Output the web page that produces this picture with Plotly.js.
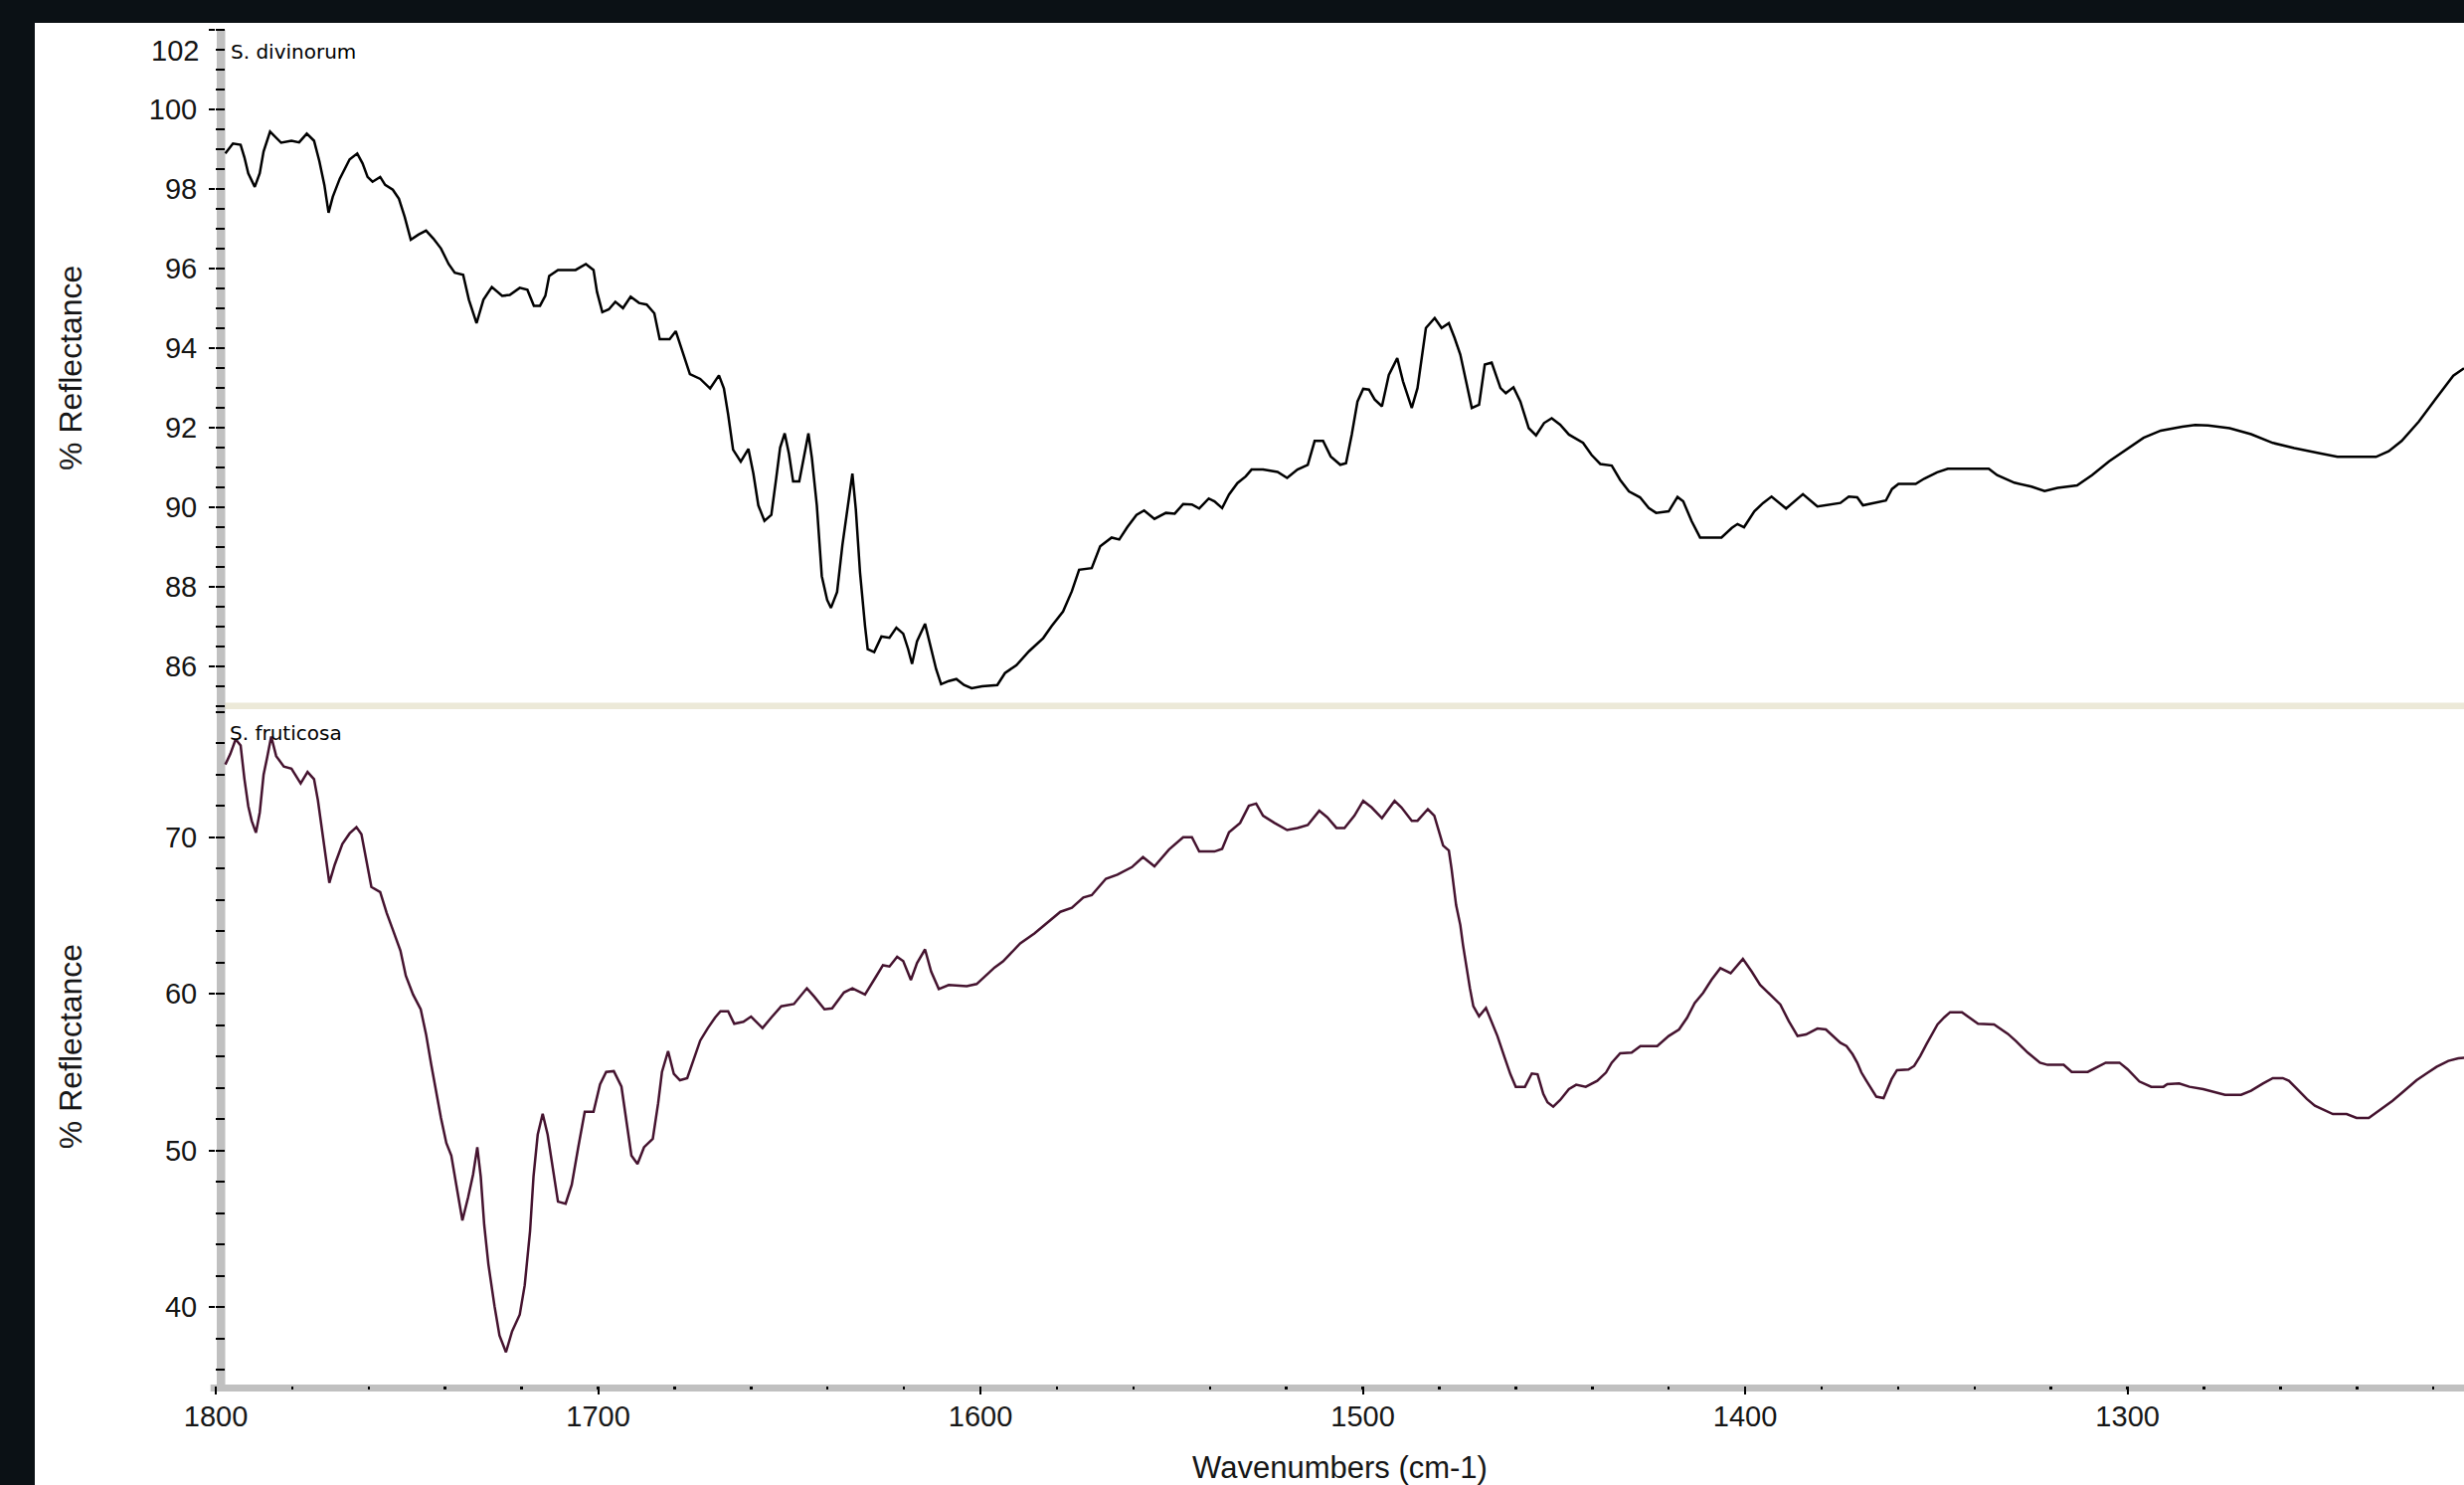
<!DOCTYPE html>
<html><head><meta charset="utf-8">
<script src="https://cdn.plot.ly/plotly-3.0.1.min.js"></script>
<style>
html,body{margin:0;padding:0;background:#0b1115;width:2478px;height:1493px;overflow:hidden;}
#chart{position:absolute;left:35px;top:23px;width:2443px;height:1470px;background:#fff;}
</style></head><body><div id="chart"></div>
<script>
// ---- data ----
const sampleNames = ['S. divinorum', 'S. fruticosa'];
const xTitle = 'Wavenumbers (cm-1)';
const yTitle = '% Reflectance';

const xTickVals = [1800, 1700, 1600, 1500, 1400, 1300];
const xTickText = ['1800', '1700', '1600', '1500', '1400', '1300'];
const topTickVals = [86, 88, 90, 92, 94, 96, 98, 100, 102];
const topTickText = ['86', '88', '90', '92', '94', '96', '98', '100', '102'];
const bottomTickVals = [40, 50, 60, 70];
const bottomTickText = ['40', '50', '60', '70'];

const divWavenumber = [
1797.5,1795.5,1793.5,1792.5,1791.5,1789.8,1788.5,1787.5,1785.8,1782.9,1780.2,1778.2,1776.2,1774.3,1772.9,1771.6,1770.5,1769.4,1767.6,1765.0,
1763.0,1761.6,1760.3,1759.0,1757.0,1755.7,1753.7,1752.1,1750.6,1749.0,1747.0,1745.0,1743.1,1741.1,1739.1,1737.5,1735.3,1733.8,1731.8,1730.0,
1727.8,1725.1,1723.1,1720.5,1718.5,1716.8,1715.2,1713.8,1712.8,1710.5,1705.9,1703.2,1701.2,1700.3,1698.9,1697.2,1695.5,1693.5,1691.5,1689.3,
1687.3,1685.3,1683.9,1681.3,1679.7,1678.0,1676.0,1673.3,1670.7,1668.4,1667.1,1666.0,1664.7,1662.7,1660.7,1659.4,1658.1,1656.5,1654.7,1653.4,
1652.4,1651.2,1650.1,1649.0,1647.4,1646.1,1645.0,1644.1,1642.8,1641.5,1640.1,1639.1,1637.5,1636.1,1634.5,1633.5,1632.6,1631.5,1630.2,1629.5,
1627.8,1625.9,1623.8,1622.0,1620.2,1618.9,1617.9,1616.6,1614.5,1613.2,1611.6,1610.3,1608.3,1606.3,1604.3,1602.3,1599.6,1595.6,1593.6,1590.6,
1587.3,1583.6,1581.4,1578.4,1576.1,1574.2,1570.9,1568.7,1565.7,1563.7,1561.6,1559.2,1557.2,1554.5,1551.5,1549.2,1547.0,1544.7,1542.8,1540.3,
1538.8,1536.8,1535.0,1532.8,1530.6,1529.1,1526.1,1522.3,1519.8,1517.1,1514.4,1512.6,1510.4,1508.4,1505.9,1504.4,1502.9,1501.4,1499.9,1498.4,
1496.9,1495.0,1493.2,1491.0,1489.5,1487.2,1485.7,1483.5,1481.2,1479.4,1477.5,1476.0,1474.5,1473.0,1471.5,1469.6,1468.1,1466.3,1464.0,1462.6,
1460.6,1458.8,1456.6,1454.7,1452.6,1450.6,1448.4,1446.1,1442.4,1440.2,1437.9,1434.9,1432.7,1430.4,1427.5,1425.2,1423.3,1420.0,1417.7,1416.2,
1414.0,1411.8,1406.2,1403.5,1402.0,1400.3,1397.6,1395.3,1393.1,1389.3,1384.9,1381.1,1378.1,1375.1,1372.9,1370.7,1369.2,1366.2,1363.2,1361.6,
1359.9,1355.4,1353.2,1349.8,1347.0,1336.3,1334.1,1329.6,1325.1,1321.7,1318.3,1313.2,1309.3,1304.8,1300.3,1295.8,1291.3,1285.7,1282.3,1278.9,
1273.3,1267.7,1262.0,1256.4,1249.7,1245.1,1235.0,1231.7,1228.3,1223.8,1219.3,1214.8,1212.0];
const divReflectance = [
98.89,99.14,99.11,98.79,98.39,98.05,98.39,98.94,99.44,99.16,99.21,99.17,99.39,99.21,98.69,98.10,97.40,97.80,98.25,98.74,
98.89,98.64,98.30,98.18,98.30,98.10,97.98,97.75,97.30,96.72,96.85,96.95,96.75,96.50,96.11,95.89,95.84,95.21,94.62,95.21,
95.53,95.31,95.33,95.51,95.46,95.06,95.06,95.31,95.81,95.96,95.96,96.11,95.96,95.41,94.90,94.97,95.16,95.00,95.29,95.13,
95.09,94.87,94.22,94.22,94.42,93.92,93.34,93.22,92.98,93.31,92.98,92.33,91.44,91.14,91.46,90.84,90.04,89.65,89.80,90.74,
91.49,91.85,91.34,90.64,90.64,91.29,91.85,91.24,90.04,88.26,87.66,87.46,87.86,89.05,90.14,90.84,89.94,88.35,87.01,86.42,
86.35,86.74,86.71,86.96,86.81,86.42,86.05,86.62,87.06,86.56,85.92,85.54,85.62,85.67,85.52,85.44,85.49,85.52,85.82,86.02,
86.37,86.70,87.00,87.37,87.88,88.42,88.46,89.01,89.23,89.18,89.49,89.80,89.91,89.70,89.85,89.83,90.07,90.06,89.96,90.21,
90.14,89.97,90.31,90.60,90.77,90.94,90.94,90.88,90.73,90.94,91.06,91.66,91.66,91.27,91.06,91.10,91.82,92.65,92.97,92.95,
92.70,92.53,93.32,93.74,93.16,92.49,92.99,94.50,94.75,94.50,94.62,94.25,93.83,93.16,92.49,92.57,93.58,93.63,92.99,92.86,
93.01,92.65,91.98,91.80,92.11,92.23,92.07,91.82,91.61,91.31,91.08,91.04,90.68,90.39,90.24,89.97,89.85,89.89,90.25,90.14,
89.64,89.23,89.23,89.47,89.57,89.49,89.89,90.10,90.26,89.96,90.32,90.01,90.06,90.10,90.26,90.24,90.04,90.10,90.16,90.45,
90.58,90.58,90.71,90.87,90.96,90.96,90.80,90.61,90.51,90.40,90.48,90.54,90.80,91.15,91.44,91.74,91.92,92.02,92.06,92.05,
91.98,91.83,91.61,91.48,91.35,91.26,91.26,91.40,91.66,92.15,92.73,93.30,93.49];

const fruWavenumber = [
1797.5,1796.2,1794.8,1793.5,1792.5,1791.5,1790.6,1789.5,1788.5,1787.5,1786.6,1785.5,1784.2,1782.2,1780.2,1779.2,1777.8,1776.0,1774.3,1773.3,
1772.3,1771.3,1770.3,1768.9,1766.9,1765.0,1763.2,1761.9,1760.6,1759.3,1757.0,1755.3,1753.7,1751.7,1750.3,1748.4,1746.4,1745.0,1743.7,1742.4,
1741.1,1739.7,1738.4,1737.1,1735.5,1734.0,1732.7,1731.6,1730.7,1729.8,1728.7,1727.1,1725.8,1724.1,1722.5,1720.5,1719.2,1717.8,1716.9,1715.8,
1714.5,1713.2,1711.8,1710.5,1708.5,1706.9,1705.2,1703.5,1701.2,1699.5,1697.9,1695.9,1693.9,1692.6,1691.3,1689.7,1688.0,1685.7,1684.3,1683.3,
1681.7,1680.2,1678.6,1676.7,1675.1,1673.3,1671.3,1669.4,1668.0,1666.0,1664.4,1662.0,1660.0,1657.0,1654.7,1652.1,1648.8,1645.4,1643.5,1640.8,
1638.8,1635.7,1633.5,1630.2,1627.5,1625.5,1623.8,1621.8,1620.2,1618.2,1616.6,1614.5,1612.9,1610.9,1608.3,1603.6,1601.0,1596.3,1594.1,1589.6,
1585.9,1581.4,1579.1,1576.1,1573.1,1570.9,1567.2,1564.2,1560.4,1557.5,1554.5,1550.7,1547.0,1544.7,1542.8,1538.8,1536.8,1535.0,1532.1,1529.8,
1527.9,1526.1,1523.1,1519.8,1517.1,1514.4,1511.4,1509.3,1506.9,1504.8,1502.2,1499.9,1497.7,1495.0,1491.7,1489.9,1487.2,1485.7,1483.0,1481.3,
1480.1,1479.0,1477.5,1476.8,1475.6,1474.5,1473.8,1473.0,1472.0,1471.1,1469.6,1467.8,1466.3,1464.8,1462.9,1461.4,1460.0,1457.6,1455.8,1454.3,
1452.8,1451.7,1450.2,1448.4,1446.1,1444.2,1441.7,1438.7,1436.4,1434.9,1432.7,1429.7,1427.4,1423.0,1420.0,1417.3,1415.2,1413.2,1411.0,1408.8,
1406.5,1403.8,1400.6,1398.3,1396.1,1393.8,1390.8,1388.6,1386.3,1384.1,1381.1,1378.9,1376.6,1375.1,1373.5,1371.9,1370.7,1369.6,1368.3,1366.9,
1365.7,1363.8,1362.8,1361.7,1360.3,1357.3,1355.8,1354.2,1352.6,1351.1,1349.7,1347.9,1346.4,1343.3,1341.2,1339.1,1334.9,1332.8,1331.3,1329.2,
1326.1,1322.9,1320.9,1316.7,1314.6,1310.4,1308.3,1305.7,1302.1,1300.0,1296.9,1293.8,1290.6,1289.6,1286.5,1283.8,1280.2,1277.1,1274.5,1270.3,
1267.7,1264.6,1262.0,1259.4,1257.8,1255.2,1253.1,1251.0,1248.4,1246.3,1242.7,1240.1,1236.9,1234.9,1232.8,1230.7,1228.1,1224.4,1221.8,1219.2,
1216.1,1213.5,1211.6];
const fruReflectance = [
74.64,75.31,76.25,75.85,73.71,71.98,71.04,70.29,71.57,73.98,75.05,76.43,75.18,74.51,74.38,73.98,73.44,74.17,73.71,72.38,
70.51,68.90,67.09,68.24,69.57,70.24,70.64,70.19,68.37,66.82,66.50,65.17,64.10,62.76,61.16,59.96,59.02,57.42,55.55,53.82,
52.08,50.48,49.68,47.81,45.54,47.01,48.48,50.21,48.34,45.27,42.74,40.07,38.20,37.13,38.46,39.53,41.40,44.87,48.34,51.01,
52.35,51.01,48.88,46.74,46.61,47.81,50.21,52.48,52.48,54.22,55.02,55.07,54.08,51.82,49.68,49.14,50.21,50.75,53.02,55.02,
56.35,54.89,54.49,54.62,55.69,57.02,57.82,58.49,58.89,58.89,58.09,58.22,58.55,57.82,58.49,59.21,59.35,60.36,59.83,59.02,
59.08,60.09,60.36,59.96,61.03,61.83,61.75,62.36,62.09,60.89,61.96,62.84,61.43,60.31,60.57,60.49,60.63,61.69,62.07,63.23,
63.86,64.81,65.24,65.49,66.15,66.30,67.35,67.61,68.09,68.73,68.14,69.21,70.00,70.00,69.09,69.09,69.26,70.31,70.91,72.01,
72.15,71.37,70.91,70.46,70.59,70.78,71.69,71.27,70.59,70.59,71.37,72.32,71.90,71.22,72.32,71.90,71.05,71.05,71.79,71.37,
70.31,69.47,69.15,67.99,65.66,64.39,63.12,61.85,60.37,59.21,58.57,59.10,58.26,57.31,55.93,54.87,54.07,54.07,54.92,54.87,
53.61,53.08,52.80,53.22,53.92,54.20,54.07,54.45,54.98,55.61,56.21,56.25,56.67,56.67,57.31,57.73,58.47,59.42,60.06,60.90,
61.64,61.32,62.23,61.43,60.58,60.06,59.32,58.26,57.31,57.41,57.79,57.73,57.20,56.88,56.67,56.14,55.61,54.98,54.45,53.92,
53.44,53.35,53.92,54.56,55.13,55.17,55.40,56.04,56.78,57.41,58.05,58.51,58.83,58.83,58.47,58.09,58.05,57.73,57.45,56.99,
56.25,55.61,55.47,55.47,55.02,55.02,55.30,55.61,55.61,55.19,54.41,54.07,54.07,54.24,54.28,54.07,53.92,53.71,53.56,53.56,
53.82,54.28,54.62,54.62,54.45,53.82,53.29,52.86,52.55,52.33,52.33,52.08,52.08,52.44,52.80,53.18,53.71,54.49,54.92,55.34,
55.72,55.89,55.93];

// ---- geometry (page pixels) ----
const DIV_LEFT = 35, DIV_TOP = 23, W = 2443, H = 1470;
const M = {l: 182, r: 0, t: 7, b: 100};
const plotLeft = DIV_LEFT + M.l;            // 217
const plotBottom = DIV_TOP + H - M.b;       // 1393
const PW = W - M.l - M.r, PH = H - M.t - M.b;
const px = rx => (rx - plotLeft) / PW;
const py = ry => (plotBottom - ry) / PH;

const topDomain = [py(709.5), 1];
const botDomain = [0, py(711)];

const tickFont = {family: 'Liberation Sans, Arial, sans-serif', size: 29, color: '#161616'};
const titleFont = {family: 'Liberation Sans, Arial, sans-serif', size: 31, color: '#161616'};
const nameFont = {family: 'DejaVu Sans, sans-serif', size: 20, color: '#000'};

const yCommon = {
  anchor: 'x', autorange: false, showgrid: false, zeroline: false, showline: false,
  ticks: 'outside', ticklen: 6, tickwidth: 2, tickcolor: '#000',
  tickmode: 'array', tickfont: tickFont, ticklabelstandoff: 6, automargin: false
};

const traces = [
  {x: divWavenumber, y: divReflectance, xaxis: 'x', yaxis: 'y', type: 'scatter', mode: 'lines',
   name: sampleNames[0], line: {color: '#000000', width: 2.5}, hoverinfo: 'x+y'},
  {x: fruWavenumber, y: fruReflectance, xaxis: 'x', yaxis: 'y2', type: 'scatter', mode: 'lines',
   name: sampleNames[1], line: {color: '#45132f', width: 2.5}, hoverinfo: 'x+y'}
];

const layout = {
  width: W, height: H, margin: M,
  paper_bgcolor: '#ffffff', plot_bgcolor: 'rgba(0,0,0,0)',
  showlegend: false,
  xaxis: {
    domain: [0, 1], range: [1800, 1212], autorange: false, anchor: 'y2',
    showgrid: false, zeroline: false, showline: false,
    ticks: 'outside', ticklen: 8, tickwidth: 2, tickcolor: '#000',
    tickmode: 'array', tickvals: xTickVals, ticktext: xTickText, tickfont: tickFont,
    ticklabelstandoff: -3, automargin: false,
    minor: {ticks: 'outside', ticklen: 3, tickwidth: 2.5, tickcolor: '#000', dtick: 20, tick0: 1800, showgrid: false},
    title: {text: xTitle, font: titleFont, standoff: 32}
  },
  yaxis: Object.assign({}, yCommon, {
    domain: topDomain, range: [85, 102],
    tickvals: topTickVals,
    ticktext: topTickText.map((t, i) => topTickVals[i] === 102 ? '' : t),
    minor: {ticks: 'inside', ticklen: 9, tickwidth: 2, tickcolor: '#000', dtick: 0.5, tick0: 85, showgrid: false},
    title: {text: yTitle, font: Object.assign({}, titleFont, {size: 32}), standoff: 57}
  }),
  yaxis2: Object.assign({}, yCommon, {
    domain: botDomain, range: [35, 78.3],
    tickvals: bottomTickVals, ticktext: bottomTickText,
    minor: {ticks: 'inside', ticklen: 9, tickwidth: 2, tickcolor: '#000', dtick: 2, tick0: 0, showgrid: false},
    title: {text: yTitle, font: Object.assign({}, titleFont, {size: 32}), standoff: 73}
  }),
  shapes: [
    // beige separator between the two panes
    {type: 'rect', xref: 'paper', yref: 'paper', x0: px(218), x1: 1, y0: py(713), y1: py(706.5),
     fillcolor: '#ece9d8', line: {width: 0}, layer: 'below'},
    // grey vertical axis band
    {type: 'rect', xref: 'paper', yref: 'paper', x0: px(218), x1: px(226.5), y0: py(1399), y1: 1,
     fillcolor: '#c0c0c0', line: {width: 0}, layer: 'below'},
    // grey horizontal axis band
    {type: 'rect', xref: 'paper', yref: 'paper', x0: px(211.7), x1: 1, y0: py(1399), y1: py(1392),
     fillcolor: '#c0c0c0', line: {width: 0}, layer: 'below'}
  ],
  annotations: [
    {xref: 'paper', yref: 'paper', x: 0, y: 1, xanchor: 'right', yanchor: 'middle',
     xshift: -15, yshift: -20.5, text: topTickText[topTickText.length - 1], showarrow: false, font: tickFont},
    {xref: 'paper', yref: 'paper', x: 0, y: 1, xanchor: 'left', yanchor: 'middle',
     xshift: 13, yshift: -22, text: sampleNames[0], showarrow: false, font: nameFont},
    {xref: 'paper', yref: 'paper', x: 0, y: botDomain[1], xanchor: 'left', yanchor: 'middle',
     xshift: 12, yshift: -25.5, text: sampleNames[1], showarrow: false, font: nameFont}
  ]
};

Plotly.newPlot('chart', traces, layout, {displayModeBar: false, staticPlot: true});
</script></body></html>
